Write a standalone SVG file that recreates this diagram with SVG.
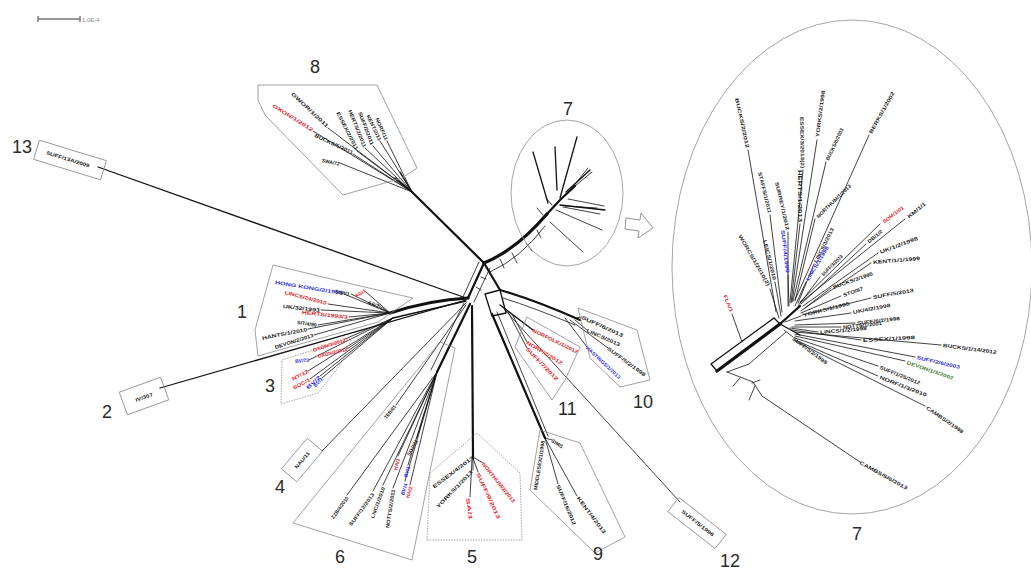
<svg xmlns="http://www.w3.org/2000/svg" width="1031" height="570" viewBox="0 0 1031 570">
<style>
.box{fill:none;stroke:#8a8a8a;stroke-width:0.8}
.dot{fill:none;stroke:#8a8a8a;stroke-width:0.8;stroke-dasharray:1.5 1.2}
.ell{fill:none;stroke:#9a9a9a;stroke-width:0.9}
.num{font-family:"Liberation Sans",Arial,sans-serif;font-size:18px;fill:#2a2a2a}
.t{font-family:"Liberation Sans",Arial,sans-serif;font-size:5px;font-weight:bold;fill:#222;dominant-baseline:central}
.r{fill:#e8202a}
.u{fill:#2b2be6}
.g{fill:#4a7a2a}
.e{fill:none;stroke:#111;stroke-linecap:round;stroke-linejoin:round}
.w1{stroke-width:0.8}
.w2{stroke-width:1.3}
.w3{stroke-width:2.2}
.w4{stroke-width:3.2}
</style>
<rect width="1031" height="570" fill="#fff"/>

<g id="scale-bar">
<path d="M38,19 L80,19 M38,16 L38,22 M80,16 L80,22" stroke="#777" stroke-width="1.4" fill="none"/>
<text x="82" y="22" font-family="Liberation Sans, Arial, sans-serif" font-size="6" fill="#888">1.0E-4</text>
</g>

<g id="connectors">
<path class="e w3" d="M412,192 L484,263"/>
<path class="e w4" d="M484,263 Q516,250 547,214"/>
<path class="e w1" d="M490,272 Q521,258 545,226"/>
<path class="e w1" d="M500,259 L504,268 M512,253 L517,263 M526,243 L532,251 M537,230 L541,238"/>
<path class="e w3" d="M484,263 L468,298"/>
<path class="e w1" d="M490,268 L474,302 M479,262 L463,297 M481,277 L486,279 M476,287 L481,290"/>
<path class="e w3" d="M484,263 L500,290"/>
<path class="e w2" d="M485,294 L500,290 L506,313 L492,316 Z"/>
<path class="e w3" d="M500,290 Q535,300 580,320"/>
<path class="e w1" d="M503,298 Q535,308 575,325"/>
<path class="e w2" d="M98,167 L466,298"/>
<path class="e w2" d="M160,388 L466,300"/>
<path class="e w4" d="M390,313 Q430,300 468,298"/>
<path class="e w2" d="M393,318 L466,301"/>
<path class="e w1" d="M322,451 L466,303"/>
<path class="e w3" d="M437,372 L470,304"/>
<path class="e w1" d="M431,370 L464,303 M396,405 L466,305"/>
<path class="e w3" d="M472,306 L473,458"/>
<path class="e w3" d="M492,314 L545,438"/>
<path class="e w1" d="M497,312 L548,436"/>
<path class="e w1" d="M505,310 L680,502"/>
<path class="e w2" d="M500,305 L533,330"/>
<path class="e w1" d="M512,314 L527,342 M508,312 L527,348"/>
<path class="e w1" d="M575,318 L582,317 M575,320 L587,330 M570,320 L608,348 M565,318 L587,347"/>
<path class="e w1" d="M412,192 L328,128 M412,192 L313,131 M412,192 L353,154 M412,192 L340,163 M412,192 L357,151 M412,192 L365,148 M412,192 L373,146 M412,192 L380,141 M412,192 L387,141"/>
<path class="e w2" d="M412,192 L395,178 M412,192 L400,172"/>
<path class="e w1" d="M344,294 L390,313 M328,304 L390,313 M321,310 L390,313 M349,317 L390,313 M318,325 L390,313 M308,329 L390,313 M314,335 L390,313 M351,294 L390,313 M366,292 L390,313 M378,305 L390,313"/>
<path class="e w1" d="M345,339 L393,318 M347,349 L393,318 M309,360 L393,318 M308,371 L393,318 M310,379 L393,318 M320,376 L393,318 M322,378 L393,318"/>
<path class="e w1" d="M347,495 L437,372 M373,491 L437,372 M383,485 L437,372 M393,488 L437,372 M398,456 L437,372 M408,465 L437,372 M405,481 L437,372 M410,485 L437,372 M417,438 L437,372"/>
<path class="e w1" d="M473,457 L483,463 M473,458 L478,472 M472,460 L470,497 M473,458 L473,470"/>
<path class="e w1" d="M545,438 L558,484 M545,438 L577,496 M545,438 L552,440"/>
<path class="e w3" d="M547,214 L560,200 L575,186"/>
<path class="e w2" d="M548,203 L533,152 M557,190 L555,147 M560,198 L577,137 M566,192 L590,170 M560,205 L605,210"/>
<path class="e w1" d="M572,188 L588,168 M575,186 L592,172 M563,207 L600,214 M565,206 L597,208 M556,210 L602,230 M550,222 L583,252 M543,215 L537,208 M552,205 L546,198 M568,199 L604,206"/>
<path class="e w4" d="M717,371 L780,324"/>
<path class="e w2" d="M711,364 L774,318 M711,364 L717,371 M774,318 L780,324"/>
<path class="e w1" d="M727,372 L749,364 L786,332"/>
<path class="e w1" d="M727,372 L753,382 L762,396 L860,462 M740,378 L733,386 M755,386 L749,400 M752,383 L760,380"/>
<path class="e w3" d="M780,324 L800,306"/>
<path class="e w2" d="M780,324 L800,335"/>
<path class="e w1" d="M748,150 L776,312 M803,170 L790,302 M817,140 L792,302 M869,135 L795,300 M826,162 L793,301 M770,215 L782,312 M788,232 L788,306 M788,275 L789,306 M770,289 L779,318 M775,282 L781,316 M800,224 L791,303 M815,219 L795,301 M814,264 L798,303 M806,282 L795,306 M820,277 L798,306 M880,224 L800,302 M905,219 L800,303 M866,244 L801,304 M878,253 L803,306 M871,263 L805,308 M831,288 L801,311 M841,296 L801,313 M871,298 L802,315 M851,313 L795,321 M801,316 L785,322 M855,323 L795,325 M841,327 L792,327 M818,332 L790,328 M861,340 L792,330 M941,345 L795,332 M915,357 L795,334 M905,361 L795,336 M878,366 L795,338 M878,376 L795,340 M925,406 L795,341 M793,337 L784,330 M732,314 L742,342"/>
</g>

<g id="cluster-8">
<polygon class="box" points="258,85 377,85 417,168 402,178 343,195 265,115 258,100"/>
<text class="num" x="310" y="73">8</text>
<text class="t" transform="translate(292,93) rotate(43)" textLength="49" lengthAdjust="spacingAndGlyphs">GWOR/1/2011</text>
<text class="t r" transform="translate(273,105) rotate(32)" textLength="47" lengthAdjust="spacingAndGlyphs">OXON/1/2012</text>
<text class="t" transform="translate(315,135) rotate(25)" textLength="42" lengthAdjust="spacingAndGlyphs">BUCKS/5/2011</text>
<text class="t" transform="translate(322,160) rotate(12)" textLength="18" lengthAdjust="spacingAndGlyphs">SWA/72</text>
<text class="t" transform="translate(338,112) rotate(63)" textLength="42" lengthAdjust="spacingAndGlyphs">ESSEX/2/2011</text>
<text class="t" transform="translate(350,110) rotate(68)" textLength="40" lengthAdjust="spacingAndGlyphs">HERTS/2/2011</text>
<text class="t" transform="translate(360,112) rotate(69)" textLength="35" lengthAdjust="spacingAndGlyphs">SUFF/2/2011</text>
<text class="t" transform="translate(368,115) rotate(64)" textLength="28" lengthAdjust="spacingAndGlyphs">KENT/2/11</text>
<text class="t" transform="translate(377,118) rotate(66)" textLength="24" lengthAdjust="spacingAndGlyphs">NORF/11</text>
</g>

<g id="cluster-13">
<rect class="box" x="-35" y="-10" width="70" height="20" transform="translate(70,160) rotate(17)"/>
<text class="num" x="12" y="153">13</text>
<text class="t" text-anchor="middle" transform="translate(68,159) rotate(17)" textLength="45" lengthAdjust="spacingAndGlyphs">SUFF/13A/2009</text>
</g>

<g id="cluster-1">
<polygon class="box" points="273,265 360,286 413,298 378,322 258,356 255,330"/>
<text class="num" x="237" y="318">1</text>
<text class="t u" transform="translate(275,282) rotate(9.2)" textLength="69" lengthAdjust="spacingAndGlyphs">HONG KONG/2/1993</text>
<text class="t r" transform="translate(285,292) rotate(14.7)" textLength="43" lengthAdjust="spacingAndGlyphs">LINCS/24/2010</text>
<text class="t" transform="translate(283,306) rotate(6.2)" textLength="37" lengthAdjust="spacingAndGlyphs">UK/32/1993</text>
<text class="t r" transform="translate(302,312) rotate(6.2)" textLength="46" lengthAdjust="spacingAndGlyphs">HERTS/1993/3</text>
<text class="t" transform="translate(297,322) rotate(8.5)" textLength="20" lengthAdjust="spacingAndGlyphs">SIT/4/90</text>
<text class="t" transform="translate(262,338) rotate(-11.3)" textLength="46" lengthAdjust="spacingAndGlyphs">HANTS/1/2010</text>
<text class="t" transform="translate(275,347) rotate(-17.5)" textLength="40" lengthAdjust="spacingAndGlyphs">DEVON/2/2013</text>
<text class="t" transform="translate(335,291) rotate(11)" textLength="15" lengthAdjust="spacingAndGlyphs">SWI/1</text>
<text class="t r" transform="translate(355,296) rotate(-30)" textLength="12" lengthAdjust="spacingAndGlyphs">AG/1</text>
<text class="t" transform="translate(368,302) rotate(20)" textLength="12" lengthAdjust="spacingAndGlyphs">AS/7</text>
</g>

<g id="cluster-3">
<polygon class="dot" points="282,360 352,338 340,365 318,393 281,404"/>
<text class="num" x="265" y="392">3</text>
<text class="t r" transform="translate(313,350) rotate(-18)" textLength="34" lengthAdjust="spacingAndGlyphs">OXON/3/2012</text>
<text class="t r" transform="translate(318,356) rotate(-14)" textLength="30" lengthAdjust="spacingAndGlyphs">OXON/2/2012</text>
<text class="t u" transform="translate(295,361) rotate(-5)" textLength="14" lengthAdjust="spacingAndGlyphs">BV/73</text>
<text class="t r" transform="translate(292,379) rotate(-27)" textLength="18" lengthAdjust="spacingAndGlyphs">NT/12</text>
<text class="t r" transform="translate(293,388) rotate(-28)" textLength="19" lengthAdjust="spacingAndGlyphs">SOC/1</text>
<text class="t u" transform="translate(307,388) rotate(-43)" textLength="17" lengthAdjust="spacingAndGlyphs">BV/2</text>
<text class="t u" transform="translate(314,386) rotate(-45)" textLength="11" lengthAdjust="spacingAndGlyphs">BV/1</text>
</g>

<g id="cluster-2">
<rect class="box" x="-22" y="-12" width="44" height="24" transform="translate(144,396) rotate(-20)"/>
<text class="num" x="102" y="418">2</text>
<text class="t" text-anchor="middle" transform="translate(144,397) rotate(-20)" textLength="18" lengthAdjust="spacingAndGlyphs">IV/307</text>
</g>

<g id="cluster-4">
<rect class="box" x="-20" y="-10" width="40" height="20" transform="translate(302,460) rotate(-50)"/>
<text class="num" x="275" y="493">4</text>
<text class="t" text-anchor="middle" transform="translate(302,460) rotate(-50)" textLength="20" lengthAdjust="spacingAndGlyphs">NAU/11</text>
</g>

<g id="cluster-6">
<polygon class="box" points="293,523 440,342 455,348 412,560"/>
<text class="num" x="335" y="563">6</text>
<text class="t" transform="translate(385,418) rotate(-52)" textLength="16" lengthAdjust="spacingAndGlyphs">TEB/01</text>
<text class="t" transform="translate(332,518) rotate(-54)" textLength="26" lengthAdjust="spacingAndGlyphs">ZZB/4/2010</text>
<text class="t" transform="translate(350,525) rotate(-54)" textLength="39" lengthAdjust="spacingAndGlyphs">SUFF/12/2013</text>
<text class="t" transform="translate(372,518) rotate(-70)" textLength="33" lengthAdjust="spacingAndGlyphs">LNC/1/2010</text>
<text class="t" transform="translate(387,528) rotate(-81)" textLength="39" lengthAdjust="spacingAndGlyphs">NOTTS/2/2011</text>
<text class="t r" transform="translate(395,470) rotate(-75)" textLength="12" lengthAdjust="spacingAndGlyphs">HA/1</text>
<text class="t u" transform="translate(405,477) rotate(-72)" textLength="11" lengthAdjust="spacingAndGlyphs">BV/3</text>
<text class="t u" transform="translate(402,495) rotate(-72)" textLength="12" lengthAdjust="spacingAndGlyphs">BV/4</text>
<text class="t r" transform="translate(407,498) rotate(-72)" textLength="12" lengthAdjust="spacingAndGlyphs">HA/2</text>
<text class="t" transform="translate(408,455) rotate(-60)" textLength="17" lengthAdjust="spacingAndGlyphs">SAK/7/13</text>
</g>

<g id="cluster-5">
<polygon class="dot" points="427,540 522,540 520,473 477,433 430,473"/>
<text class="num" x="467" y="563">5</text>
<text class="t" transform="translate(433,487) rotate(-37)" textLength="50" lengthAdjust="spacingAndGlyphs">ESSEX/4/2013</text>
<text class="t" transform="translate(437,507) rotate(-46)" textLength="50" lengthAdjust="spacingAndGlyphs">YORKS/1/2013</text>
<text class="t r" transform="translate(483,463) rotate(51)" textLength="50" lengthAdjust="spacingAndGlyphs">NORTHUM/2/2013</text>
<text class="t r" transform="translate(478,473) rotate(65)" textLength="50" lengthAdjust="spacingAndGlyphs">SUFF/9/2013</text>
<text class="t r" transform="translate(468,498) rotate(82)" textLength="22" lengthAdjust="spacingAndGlyphs">SA/1</text>
</g>

<g id="cluster-9">
<polygon class="box" points="530,490 540,430 580,443 625,537 595,553"/>
<text class="num" x="593" y="560">9</text>
<text class="t" transform="translate(535,490) rotate(-81)" textLength="50" lengthAdjust="spacingAndGlyphs">MIDDLESEX/1/1998</text>
<text class="t" transform="translate(552,440) rotate(32)" textLength="13" lengthAdjust="spacingAndGlyphs">SIM/1</text>
<text class="t" transform="translate(558,485) rotate(67)" textLength="43" lengthAdjust="spacingAndGlyphs">SUFF/16/2012</text>
<text class="t" transform="translate(578,497) rotate(53)" textLength="45" lengthAdjust="spacingAndGlyphs">KENT/4/2013</text>
</g>

<g id="cluster-11">
<polygon class="box" points="527,317 580,347 565,380 552,400 515,347"/>
<text class="num" x="558" y="415">11</text>
<text class="t r" transform="translate(533,330) rotate(26)" textLength="50" lengthAdjust="spacingAndGlyphs">NORFOLK/1/2012</text>
<text class="t r" transform="translate(527,342) rotate(31)" textLength="41" lengthAdjust="spacingAndGlyphs">NORF/2/2012</text>
<text class="t r" transform="translate(527,348) rotate(46)" textLength="44" lengthAdjust="spacingAndGlyphs">SUFF/7/2012</text>
</g>

<g id="cluster-10">
<polygon class="box" points="578,308 637,330 650,380 620,387 590,358"/>
<text class="num" x="633" y="408">10</text>
<text class="t" transform="translate(582,317) rotate(24)" textLength="45" lengthAdjust="spacingAndGlyphs">SUFF/6/2013</text>
<text class="t" transform="translate(587,330) rotate(24)" textLength="36" lengthAdjust="spacingAndGlyphs">LINCS/2013</text>
<text class="t" transform="translate(608,348) rotate(36)" textLength="46" lengthAdjust="spacingAndGlyphs">SUFF/5/2/1998</text>
<text class="t u" transform="translate(587,347) rotate(43)" textLength="45" lengthAdjust="spacingAndGlyphs">HASTINGS/1/2013</text>
</g>

<g id="cluster-12">
<rect class="box" x="-30" y="-9" width="60" height="18" transform="translate(697,523) rotate(38)"/>
<text class="num" x="720" y="567">12</text>
<text class="t" text-anchor="middle" transform="translate(698,523) rotate(38)" textLength="40" lengthAdjust="spacingAndGlyphs">SUFF/5/1996</text>
</g>

<g id="cluster-7">
<ellipse class="ell" cx="567" cy="193" rx="56" ry="73"/>
<text class="num" x="563" y="115">7</text>
<path d="M626,218 L640,220 L641,213 L653,228 L638,238 L639,231 L625,229 Z" fill="#fff" stroke="#888" stroke-width="0.9"/>
</g>

<g id="cluster-7-detail">
<ellipse class="ell" cx="852" cy="267" rx="180" ry="247"/>
<text class="num" x="852" y="540">7</text>
<text class="t" transform="translate(737,98) rotate(77.6)" textLength="51" lengthAdjust="spacingAndGlyphs">BUCKS/2/2012</text>
<text class="t" transform="translate(802,117) rotate(88.9)" textLength="51" lengthAdjust="spacingAndGlyphs">ESSEX/3/2013(2)</text>
<text class="t" transform="translate(817,137) rotate(-82.7)" textLength="47" lengthAdjust="spacingAndGlyphs">YORKS/2/1998</text>
<text class="t" transform="translate(870,133) rotate(-60.7)" textLength="47" lengthAdjust="spacingAndGlyphs">BERKS/1/2002</text>
<text class="t" transform="translate(827,160) rotate(-64.9)" textLength="35" lengthAdjust="spacingAndGlyphs">BUCKS/6/2003</text>
<text class="t" transform="translate(760,172) rotate(76.3)" textLength="42" lengthAdjust="spacingAndGlyphs">STAFFS/1/2011</text>
<text class="t" transform="translate(777,182) rotate(77)" textLength="49" lengthAdjust="spacingAndGlyphs">SURREY/1/2012</text>
<text class="t u" transform="translate(783,230) rotate(83.4)" textLength="43" lengthAdjust="spacingAndGlyphs">SUFF/4/1999</text>
<text class="t" transform="translate(740,235) rotate(60)" textLength="58" lengthAdjust="spacingAndGlyphs">WORCS/1/2010(2)</text>
<text class="t" transform="translate(765,240) rotate(76)" textLength="41" lengthAdjust="spacingAndGlyphs">LEICS/1/2010</text>
<text class="t" transform="translate(800,170) rotate(90)" textLength="52" lengthAdjust="spacingAndGlyphs">HERTS/1/2013</text>
<text class="t" transform="translate(817,217) rotate(-44)" textLength="46" lengthAdjust="spacingAndGlyphs">NORTHUM/1/2013</text>
<text class="t" transform="translate(815,262) rotate(-63)" textLength="38" lengthAdjust="spacingAndGlyphs">LINCS/3/2013</text>
<text class="t u" transform="translate(807,280) rotate(-58.8)" textLength="39" lengthAdjust="spacingAndGlyphs">LINCS/1/1998</text>
<text class="t" transform="translate(822,275) rotate(-45)" textLength="28" lengthAdjust="spacingAndGlyphs">SUFF/3/2013</text>
<text class="t r" transform="translate(883,222) rotate(-36.9)" textLength="25" lengthAdjust="spacingAndGlyphs">SOM/1/01</text>
<text class="t" transform="translate(908,217) rotate(-39.5)" textLength="22" lengthAdjust="spacingAndGlyphs">KM/1/1</text>
<text class="t" transform="translate(868,242) rotate(-40)" textLength="18" lengthAdjust="spacingAndGlyphs">DB/1/2</text>
<text class="t" transform="translate(880,252) rotate(-20.7)" textLength="40" lengthAdjust="spacingAndGlyphs">UK/1/2/1998</text>
<text class="t" transform="translate(873,262) rotate(-4.9)" textLength="47" lengthAdjust="spacingAndGlyphs">KENT/1/1/1999</text>
<text class="t" transform="translate(833,287) rotate(-19.3)" textLength="42" lengthAdjust="spacingAndGlyphs">BUCKS/3/1995</text>
<text class="t" transform="translate(843,295) rotate(-19.3)" textLength="21" lengthAdjust="spacingAndGlyphs">STO/87</text>
<text class="t" transform="translate(873,297) rotate(-9.9)" textLength="41" lengthAdjust="spacingAndGlyphs">SUFF/5/2013</text>
<text class="t" transform="translate(853,312) rotate(-10.7)" textLength="38" lengthAdjust="spacingAndGlyphs">UK/4/2/1998</text>
<text class="t" transform="translate(803,315) rotate(-14.3)" textLength="48" lengthAdjust="spacingAndGlyphs">YORKS/1/1995</text>
<text class="t" transform="translate(857,323) rotate(-6.6)" textLength="43" lengthAdjust="spacingAndGlyphs">SUFF/6/2/1998</text>
<text class="t" transform="translate(843,327) rotate(-5.9)" textLength="39" lengthAdjust="spacingAndGlyphs">NOTTS/1/2001</text>
<text class="t" transform="translate(820,332) rotate(-4.9)" textLength="47" lengthAdjust="spacingAndGlyphs">LINCS/1/2/1998</text>
<text class="t" transform="translate(863,340) rotate(-3.3)" textLength="52" lengthAdjust="spacingAndGlyphs">ESSEX/1/1998</text>
<text class="t" transform="translate(943,345) rotate(7.4)" textLength="54" lengthAdjust="spacingAndGlyphs">BUCKS/1/14/2012</text>
<text class="t u" transform="translate(917,357) rotate(13.1)" textLength="44" lengthAdjust="spacingAndGlyphs">SUFF/2/6/2003</text>
<text class="t g" transform="translate(907,362) rotate(19.2)" textLength="49" lengthAdjust="spacingAndGlyphs">DEVON/1/3/2002</text>
<text class="t" transform="translate(880,367) rotate(21.8)" textLength="43" lengthAdjust="spacingAndGlyphs">SUFF/1/25/2012</text>
<text class="t" transform="translate(880,377) rotate(21)" textLength="50" lengthAdjust="spacingAndGlyphs">NORF/1/3/2010</text>
<text class="t" transform="translate(927,407) rotate(34.8)" textLength="44" lengthAdjust="spacingAndGlyphs">CAMBS/2/1998</text>
<text class="t" transform="translate(793,338) rotate(36.3)" textLength="42" lengthAdjust="spacingAndGlyphs">SUFF/3/2/1998</text>
<text class="t r" transform="translate(725,295) rotate(67.6)" textLength="18" lengthAdjust="spacingAndGlyphs">FLA/1</text>
<text class="t" transform="translate(860,462) rotate(29)" textLength="54" lengthAdjust="spacingAndGlyphs">CAMBS/5/6/2013</text>
</g>
</svg>
